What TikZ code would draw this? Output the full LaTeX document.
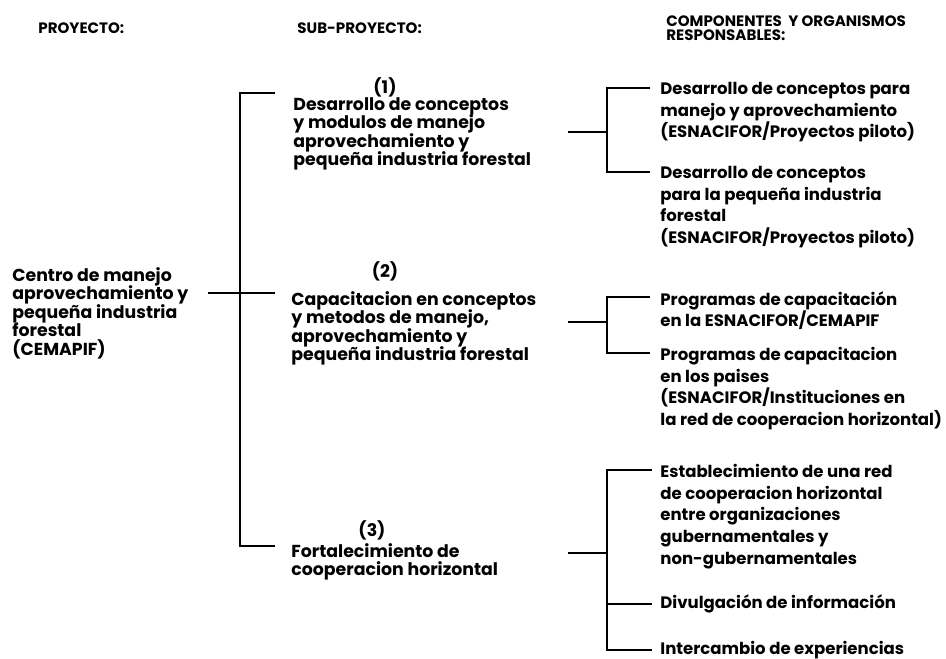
\documentclass[tikz,border=0pt]{standalone}
\usepackage{fontspec}
\setmainfont{Poppins}
\begin{document}
\begin{tikzpicture}[x=0.75pt,y=-0.75pt,
  line width=2.1pt,
  hdr/.style={font=\fontsize{11.3}{12}\selectfont\bfseries, inner sep=0pt, anchor=west},
  txt/.style={font=\fontsize{13}{13.9}\selectfont\bfseries, align=left, inner sep=0pt, anchor=north west},
  rtxt/.style={font=\fontsize{12.4}{16.2}\selectfont\bfseries, align=left, inner sep=0pt, anchor=north west},
  num/.style={font=\fontsize{13}{14}\selectfont\bfseries, inner sep=0pt}]
\useasboundingbox (0,0) rectangle (946,659);
% headers
\node[hdr] (hp) at (37,28) {PROYECTO:};
\node[hdr] (hs) at (296,28) {SUB-PROYECTO:};
\node[hdr, align=left, anchor=north west, font=\fontsize{11.3}{10.8}\selectfont\bfseries] (hc) at (665,14) {COMPONENTES\ \ Y ORGANISMOS\\RESPONSABLES:};
% project
\node[txt] (p) at (11,266) {Centro de manejo\\aprovechamiento y\\pequeña industria\\forestal\\(CEMAPIF)};
% sub-projects
\node[num] (n1) at (385,87) {(1)};
\node[txt] (s1) at (292,96) {Desarrollo de conceptos\\y modulos de manejo\\aprovechamiento y\\pequeña industria forestal};
\node[num] (n2) at (385,271) {(2)};
\node[txt] (s2) at (290,290) {Capacitacion en conceptos\\y metodos de manejo,\\aprovechamiento y\\pequeña industria forestal};
\node[num] (n3) at (372,530) {(3)};
\node[txt] (s3) at (290,542) {Fortalecimiento de\\cooperacion horizontal};
% components
\node[rtxt] (c1) at (659,81) {Desarrollo de conceptos para\\manejo y aprovechamiento\\(ESNACIFOR/Proyectos piloto)};
\node[rtxt] (c2) at (659,165) {Desarrollo de conceptos\\para la pequeña industria\\forestal\\(ESNACIFOR/Proyectos piloto)};
\node[rtxt] (c3) at (659,290) {Programas de capacitación\\en la ESNACIFOR/CEMAPIF};
\node[rtxt] (c4) at (659,346) {Programas de capacitacion\\en los paises\\(ESNACIFOR/Instituciones en\\la red de cooperacion horizontal)};
\node[rtxt] (c5) at (659,463) {Establecimiento de una red\\de cooperacion horizontal\\entre organizaciones\\gubernamentales y\\non-gubernamentales};
\node[rtxt, anchor=west] (c6) at (659,604) {Divulgación de información};
\node[rtxt, anchor=west] (c7) at (659,650) {Intercambio de experiencias};
% main bracket
\coordinate (p0) at (208,293);
\coordinate (m1) at (275,93);
\coordinate (m2) at (275,293);
\coordinate (m3) at (275,546);
\coordinate (t1) at (240,93);
\coordinate (t3) at (240,546);
\draw (m1) -- (t1) -- (t3) -- (m3);
\draw (p0) -- (m2);
% right brackets
\coordinate (r1) at (568,132); \coordinate (k1) at (607,132);
\coordinate (e1) at (650,88); \coordinate (e2) at (650,172);
\draw (r1) -- (k1);
\draw (e1) -| (k1) |- (e2);
\coordinate (r2) at (568,322); \coordinate (k2) at (607,322);
\coordinate (e3) at (650,297); \coordinate (e4) at (650,353);
\draw (r2) -- (k2);
\draw (e3) -| (k2) |- (e4);
\coordinate (r3) at (568,553); \coordinate (k3) at (607,553);
\coordinate (e5) at (652,470); \coordinate (e6) at (652,604); \coordinate (e7) at (652,650);
\draw (r3) -- (k3);
\draw (e5) -| (k3) |- (e7);
\draw (k3 |- e6) -- (e6);
\end{tikzpicture}
\end{document}
